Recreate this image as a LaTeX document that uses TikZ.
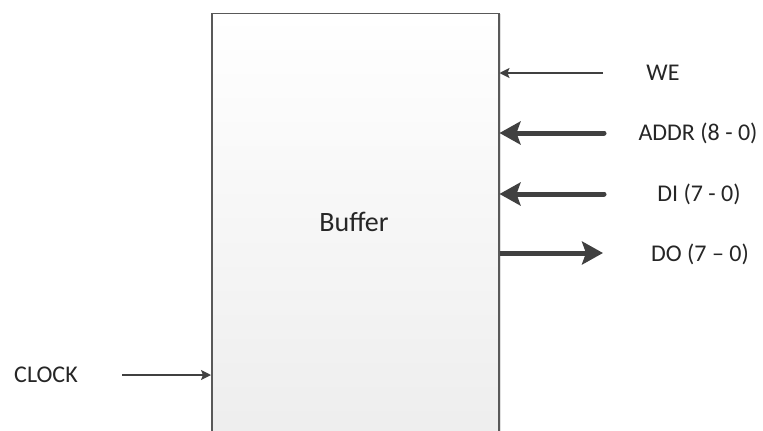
\documentclass[tikz,border=0pt]{standalone}
\usepackage{fontspec}
\setmainfont{Carlito}
\usetikzlibrary{arrows.meta,shadows}
\tikzset{>=Stealth}
\tikzset{sig/.style={draw=black!75,line width=1.2pt,-{Stealth[length=10pt,width=10pt,inset=2pt]}}}
\tikzset{bus/.style={draw=black!75,line width=5pt,line cap=round,-{Stealth[length=21pt,width=23pt,inset=4pt]}}}
\tikzset{lbl/.style={font=\fontsize{24}{28}\selectfont,text=black!85}}

\begin{document}
\begin{tikzpicture}[x=1pt,y=-1pt]
    \useasboundingbox (0,0) rectangle (763,431);
    \clip (0,0) rectangle (763,431);
    \node[draw=black!65,line width=1.5pt,top color=white,bottom color=black!7,
      drop shadow={shadow xshift=2pt,shadow yshift=-1pt,opacity=.25},
      minimum width=287pt,minimum height=430pt,inner sep=0pt,anchor=north west] (buf) at (211,12.5) {};
    \node[font=\fontsize{28}{32}\selectfont,text=black!85] (title) at (354,222) {Buf{}fer};
    \node[lbl] (we) at (663,73) {WE};
    \node[lbl] (addr) at (698,133) {ADDR (8 - 0)};
    \node[lbl] (di) at (699,194) {DI (7 - 0)};
    \node[lbl] (do) at (700,254) {DO (7 – 0)};
    \node[lbl] (clk) at (46,375) {CLOCK};
    \coordinate (weS) at (603,73);
    \coordinate (addrS) at (604,133);
    \coordinate (diS) at (604,194);
    \coordinate (doE) at (603,253);
    \coordinate (clkS) at (122,375);
    \draw[sig] (weS) -- (buf.east |- weS);
    \draw[bus] (addrS) -- (buf.east |- addrS);
    \draw[bus] (diS) -- (buf.east |- diS);
    \draw[bus,line cap=butt] (buf.east |- doE) -- (doE);
    \draw[sig] (clkS) -- (buf.west |- clkS);
  \end{tikzpicture}
\end{document}
